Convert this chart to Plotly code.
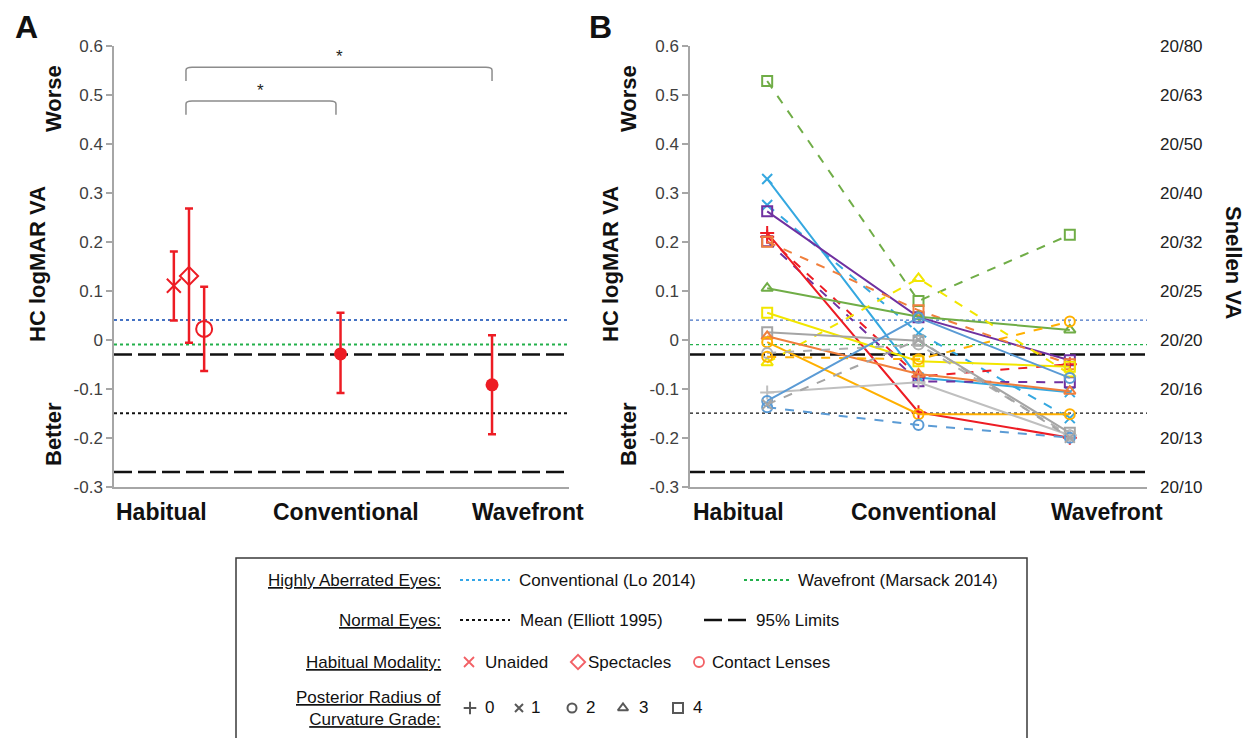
import plotly.graph_objects as go

W, H = 1248, 738
FONT = "Liberation Sans, Arial, sans-serif"

# ---------------- data ----------------
conditions = ["Habitual", "Conventional", "Wavefront"]

# Panel A: group means with error limits
hab_modalities = ["Unaided", "Spectacles", "Contact Lenses"]
hab_offsets = [-0.10, 0.0, 0.10]
hab_mean = [0.110, 0.130, 0.022]
hab_upper = [0.180, 0.268, 0.108]
hab_lower = [0.039, -0.006, -0.064]

corr_names = ["Conventional", "Wavefront"]
corr_mean = [-0.029, -0.092]
corr_upper = [0.055, 0.009]
corr_lower = [-0.109, -0.193]

# significance brackets: (from condition, to condition)
sig_pairs = [("Habitual", "Conventional"), ("Habitual", "Wavefront")]
sig_heights = [0.487, 0.556]

# reference levels (logMAR)
conv_lo2014 = 0.04
wf_marsack2014 = -0.01
normal_mean = -0.15
normal_limits = [-0.03, -0.27]

# Panel B: individual eyes
eye_color = ["#70AD47", "#35A8E0", "#35A8E0", "#7030A0", "#7030A0",
             "#ED1C24", "#ED1C24", "#F07F3C", "#70AD47", "#F2E600",
             "#F2E600", "#A5A5A5", "#F07F3C", "#FFB000", "#B0B0B0",
             "#FFB000", "#BFBFBF", "#5B9BD5", "#5B9BD5", "#A5A5A5"]
eye_dash = ["dash", "solid", "dash", "solid", "dash",
            "solid", "dash", "dash", "solid", "solid",
            "dash", "solid", "solid", "solid", "dash",
            "dash", "solid", "solid", "dash", "dash"]
eye_grade = [4, 1, 1, 4, 4,
             0, 0, 4, 3, 4,
             3, 4, 3, 2, 2,
             2, 0, 2, 2, 1]
eye_habitual = [0.528, 0.328, 0.275, 0.262, 0.201,
                0.218, 0.210, 0.200, 0.105, 0.055,
                -0.047, 0.015, 0.007, -0.005, -0.027,
                -0.035, -0.108, -0.125, -0.138, -0.132]
eye_conventional = [0.079, -0.077, 0.014, 0.046, -0.085,
                    -0.148, -0.075, 0.060, 0.047, -0.044,
                    0.125, -0.002, -0.070, -0.152, -0.010,
                    -0.040, -0.087, 0.045, -0.174, 0.000]
eye_wavefront = [0.214, -0.107, -0.160, -0.042, -0.087,
                 -0.200, -0.050, -0.050, 0.020, -0.055,
                 -0.070, -0.190, -0.105, -0.152, -0.195,
                 0.037, -0.195, -0.078, -0.200, -0.200]

grade_symbols = {0: "cross-thin-open", 1: "x-thin-open", 2: "circle-open",
                 3: "triangle-up-open", 4: "square-open"}

logmar_ticks = [0.6, 0.5, 0.4, 0.3, 0.2, 0.1, 0.0, -0.1, -0.2, -0.3]
logmar_labels = ["0.6", "0.5", "0.4", "0.3", "0.2", "0.1", "0", "-0.1", "-0.2", "-0.3"]
snellen_labels = ["20/80", "20/63", "20/50", "20/40", "20/32",
                  "20/25", "20/20", "20/16", "20/13", "20/10"]

RED = "#ED1C24"
REF_BLUE = "#4472C4"
REF_GREEN = "#22B04B"

# ---------------- helpers ----------------
def px(x):
    return x / W


def py(y):
    return 1 - y / H


cond_x = {c: i + 1 for i, c in enumerate(conditions)}

fig = go.Figure()

# ---------------- Panel A ----------------
for name, off, m, hi, lo, sym, size in zip(
        hab_modalities, hab_offsets, hab_mean, hab_upper, hab_lower,
        ["x-thin-open", "diamond-open", "circle-open"], [14, 14, 16]):
    fig.add_trace(go.Scatter(
        x=[cond_x["Habitual"] + off], y=[m], mode="markers", name=name,
        marker=dict(symbol=sym, size=size, color=RED,
                    line=dict(color=RED, width=2)),
        error_y=dict(type="data", symmetric=False, array=[hi - m],
                     arrayminus=[m - lo], color=RED, thickness=2.5, width=4),
        xaxis="x", yaxis="y", showlegend=False))

fig.add_trace(go.Scatter(
    x=[cond_x[c] for c in corr_names], y=corr_mean, mode="markers",
    marker=dict(symbol="circle", size=13, color=RED),
    error_y=dict(type="data", symmetric=False,
                 array=[h - m for h, m in zip(corr_upper, corr_mean)],
                 arrayminus=[m - l for m, l in zip(corr_mean, corr_lower)],
                 color=RED, thickness=2.5, width=4),
    xaxis="x", yaxis="y", showlegend=False))

# ---------------- Panel B ----------------
for col, dsh, g, a, b, c in zip(eye_color, eye_dash, eye_grade,
                                eye_habitual, eye_conventional, eye_wavefront):
    fig.add_trace(go.Scatter(
        x=[cond_x[k] for k in conditions], y=[a, b, c], mode="lines+markers",
        line=dict(color=col, width=2, dash=dsh),
        marker=dict(symbol=grade_symbols[g], size=10, color=col,
                    line=dict(color=col, width=2)),
        xaxis="x2", yaxis="y2", showlegend=False))

# right-hand Snellen axis
fig.add_trace(go.Scatter(x=[None], y=[None], xaxis="x2", yaxis="y3",
                         showlegend=False, hoverinfo="skip"))

# ---------------- reference lines ----------------
shapes = []
for xa, ya, thick in [("x", "y", True), ("x2", "y2", False)]:
    dot_w = 2 if thick else 1.3
    long_dash = "18px,6px" if thick else "15px,5px"
    refs = [
        (conv_lo2014, REF_BLUE, dot_w, "dot"),
        (wf_marsack2014, REF_GREEN, dot_w, "dot"),
        (normal_mean, "#111111", dot_w, "dot"),
        (normal_limits[0], "#111111", 2.5, long_dash),
        (normal_limits[1], "#111111", 2.5, long_dash),
    ]
    for yv, col, wdt, dsh in refs:
        shapes.append(dict(type="line", xref=f"{xa} domain", yref=ya,
                           x0=0, x1=1, y0=yv, y1=yv, layer="below",
                           line=dict(color=col, width=wdt, dash=dsh)))

# significance brackets (panel A)
annotations = []
for (c0, c1), top in zip(sig_pairs, sig_heights):
    x0 = cond_x[c0] - 0.02
    x1 = cond_x[c1] - (0.03 if c1 == "Conventional" else 0.0)
    bot = top - 0.028
    r = 0.006
    dx = 0.04
    path = (f"M {x0},{bot} L {x0},{top - r} Q {x0},{top} {x0 + dx},{top} "
            f"L {x1 - dx},{top} Q {x1},{top} {x1},{top - r} L {x1},{bot}")
    shapes.append(dict(type="path", xref="x", yref="y", path=path,
                       line=dict(color="#8C8C8C", width=1.5)))
    annotations.append(dict(x=(x0 + x1) / 2, y=top + 0.022, xref="x", yref="y",
                            text="*", showarrow=False,
                            font=dict(family=FONT, size=17, color="#222")))

# ---------------- axes ----------------
yax = dict(range=[-0.3, 0.6], tickvals=logmar_ticks, ticktext=logmar_labels,
           showline=True, linecolor="#A6A6A6", linewidth=1.5,
           ticks="outside", ticklen=6, tickcolor="#A6A6A6", tickwidth=1.5,
           showgrid=False, zeroline=False, automargin=False,
           tickfont=dict(family=FONT, size=17, color="#404040"),
           domain=[py(486.7), py(45.7)], fixedrange=True)
xax = dict(range=[0.505, 3.508], showline=True, linecolor="#A6A6A6",
           linewidth=1.5, showticklabels=False, ticks="", showgrid=False,
           zeroline=False, automargin=False, fixedrange=True)

fig.update_layout(
    xaxis=dict(xax, domain=[px(114), px(569)], anchor="y"),
    yaxis=dict(yax, anchor="x"),
    xaxis2=dict(xax, range=[0.49, 3.51], domain=[px(690), px(1147)], anchor="y2"),
    yaxis2=dict(yax, anchor="x2"),
    yaxis3=dict(range=[-0.3, 0.6], tickvals=logmar_ticks, ticktext=snellen_labels,
                overlaying="y2", anchor="x2", side="right", showline=False,
                ticks="", showgrid=False, zeroline=False, ticklabelstandoff=12,
                automargin=False,
                tickfont=dict(family=FONT, size=17, color="#222"),
                fixedrange=True),
    xaxis4=dict(range=[0, W], domain=[0, 1], visible=False, fixedrange=True,
                automargin=False, anchor="y4"),
    yaxis4=dict(range=[H, 0], domain=[0, 1], visible=False, fixedrange=True,
                automargin=False, anchor="x4"),
)

# ---------------- text labels ----------------
def label(x, y, text, size=22, angle=0, xanchor="center", align="center",
          color="#111", weight="bold"):
    annotations.append(dict(
        x=px(x), y=py(y), xref="paper", yref="paper", text=text,
        showarrow=False, textangle=angle, xanchor=xanchor, yanchor="middle",
        align=align,
        font=dict(family=FONT, size=size, color=color, weight=weight)))


label(26, 27, "A", size=32)
label(600, 27, "B", size=32)

for xc_title, xc_side in [(38, 53), (611, 628)]:
    label(xc_side, 99, "Worse", angle=-90)
    label(xc_title, 264, "HC logMAR VA", angle=-90)
    label(xc_side, 434, "Better", angle=-90)
label(1234, 262, "Snellen VA", angle=90)

cat_centers = {"A": [161, 346, 528], "B": [738, 924, 1107]}
for panel, centers in cat_centers.items():
    for cx, name in zip(centers, conditions):
        label(cx, 512, name, size=23)

# ---------------- custom legend ----------------
shapes.append(dict(type="rect", xref="paper", yref="paper",
                   x0=px(236), x1=px(1027), y0=py(780), y1=py(558),
                   line=dict(color="#3A3A3A", width=1.5)))

LF = 17
row_y = [580, 620, 662, 708]
headers = ["Highly Aberrated Eyes:", "Normal Eyes:", "Habitual Modality:",
           "Posterior Radius of<br>Curvature Grade:"]
for hy, htxt in zip(row_y, headers):
    txt = "<br>".join(f"<u>{t}</u>" for t in htxt.split("<br>"))
    label(443, hy, txt, size=LF, xanchor="right", align="right",
          color="#111", weight="normal")


def swatch(x0, x1, y, col, width, dash):
    shapes.append(dict(type="line", xref="paper", yref="paper",
                       x0=px(x0), x1=px(x1), y0=py(y), y1=py(y),
                       line=dict(color=col, width=width, dash=dash)))


swatch(460, 510, 580, "#33A6E8", 2, "dot")
label(517, 580, "Conventional (Lo 2014)", size=LF, xanchor="left", weight="normal")
swatch(744, 791, 580, REF_GREEN, 2, "dot")
label(796, 580, "Wavefront (Marsack 2014)", size=LF, xanchor="left", weight="normal")

swatch(460, 510, 620, "#111111", 2, "dot")
label(518, 620, "Mean (Elliott 1995)", size=LF, xanchor="left", weight="normal")
swatch(704, 752, 620, "#111111", 2.5, "18px,6px")
label(754, 620, "95% Limits", size=LF, xanchor="left", weight="normal")

mod_text_x = [483, 586, 710]
mod_sym_x = [469, 578, 699]
mod_syms = ["x-thin-open", "diamond-open", "circle-open"]
for tx, name in zip(mod_text_x, hab_modalities):
    label(tx, 662, name, size=LF, xanchor="left", weight="normal")
fig.add_trace(go.Scatter(
    x=mod_sym_x, y=[662] * 3, mode="markers", xaxis="x4", yaxis="y4",
    marker=dict(symbol=mod_syms, size=[10, 11, 10], color=RED,
                line=dict(color=RED, width=1.8)),
    showlegend=False, hoverinfo="skip"))

grade_keys = [0, 1, 2, 3, 4]
grade_sym_x = [470, 519, 572, 623, 678]
grade_txt_x = [483, 529, 584, 637, 691]
for tx, g in zip(grade_txt_x, grade_keys):
    label(tx, 707, str(g), size=LF, xanchor="left", weight="normal")
fig.add_trace(go.Scatter(
    x=grade_sym_x, y=[708] * 5, mode="markers", xaxis="x4", yaxis="y4",
    marker=dict(symbol=[grade_symbols[g] for g in grade_keys],
                size=[9, 8, 9, 9, 10], color="#111",
                line=dict(color="#111", width=2)),
    showlegend=False, hoverinfo="skip"))

fig.update_layout(
    width=W, height=H,
    margin=dict(l=0, r=0, t=0, b=0, autoexpand=False),
    paper_bgcolor="white", plot_bgcolor="rgba(0,0,0,0)",
    shapes=shapes, annotations=annotations, showlegend=False,
    font=dict(family=FONT),
)

fig.write_html("out.html", config={"displayModeBar": False})
